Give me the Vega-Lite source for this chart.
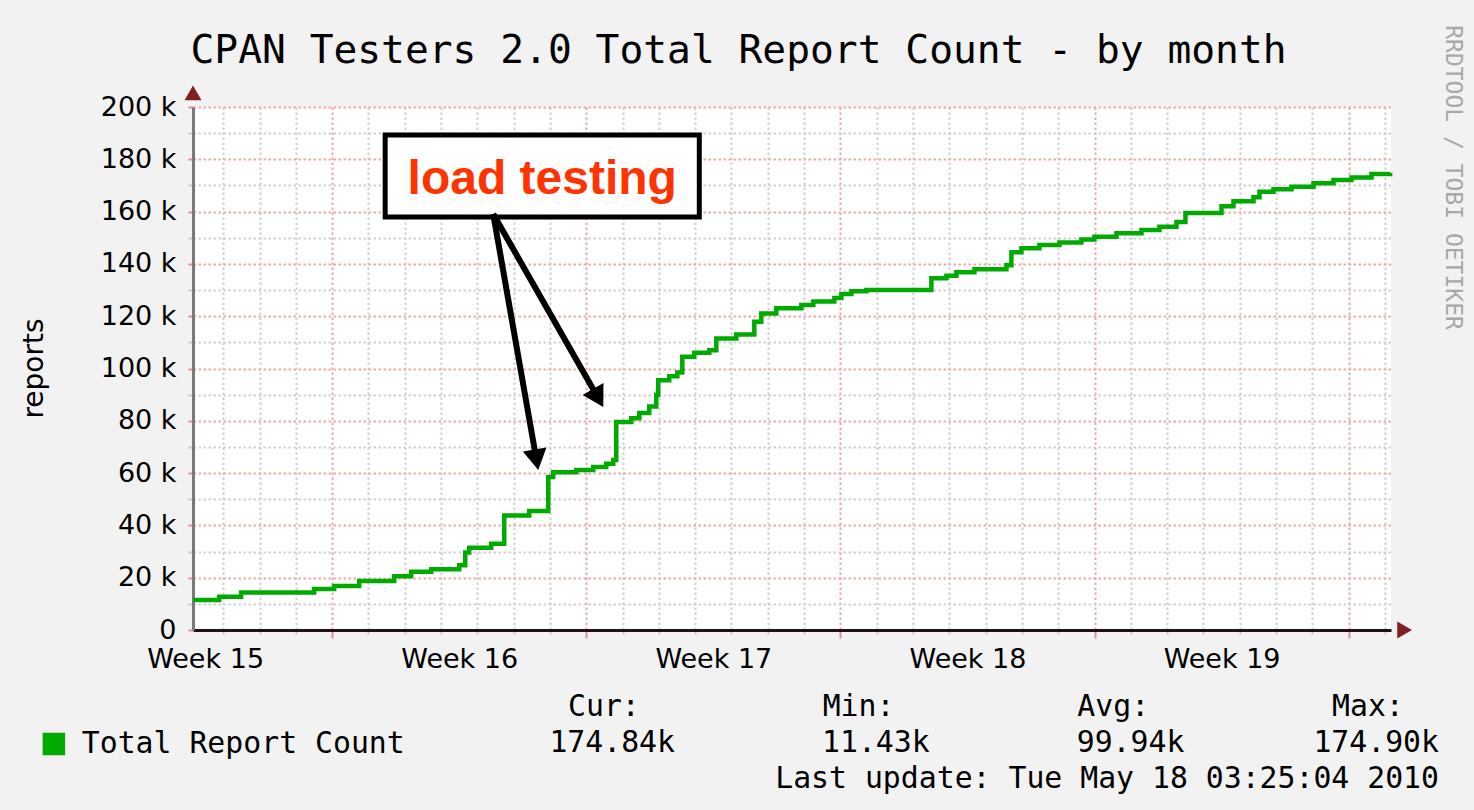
{
  "$schema": "https://vega.github.io/schema/vega-lite/v6.json",
  "autosize": "none",
  "padding": {"left": 193, "top": 107, "right": 83, "bottom": 180},
  "width": 1198,
  "height": 523,
  "background": "#f2f2f2",
  "datasets": {
    "reports": [
      {"time": "2010-04-15T04:10Z", "count": 11430},
      {"time": "2010-04-15T21:16Z", "count": 12700},
      {"time": "2010-04-16T11:48Z", "count": 14300},
      {"time": "2010-04-18T12:06Z", "count": 15700},
      {"time": "2010-04-19T01:19Z", "count": 16800},
      {"time": "2010-04-19T17:51Z", "count": 18700},
      {"time": "2010-04-20T17:00Z", "count": 20600},
      {"time": "2010-04-21T04:15Z", "count": 22300},
      {"time": "2010-04-21T17:28Z", "count": 23200},
      {"time": "2010-04-22T12:00Z", "count": 24800},
      {"time": "2010-04-22T15:58Z", "count": 29600},
      {"time": "2010-04-22T18:36Z", "count": 31500},
      {"time": "2010-04-23T09:09Z", "count": 33000},
      {"time": "2010-04-23T17:45Z", "count": 43800},
      {"time": "2010-04-24T10:16Z", "count": 45500},
      {"time": "2010-04-24T22:51Z", "count": 58500},
      {"time": "2010-04-25T02:10Z", "count": 60300},
      {"time": "2010-04-25T17:22Z", "count": 61200},
      {"time": "2010-04-26T04:36Z", "count": 62300},
      {"time": "2010-04-26T13:12Z", "count": 63600},
      {"time": "2010-04-26T17:50Z", "count": 65000},
      {"time": "2010-04-26T19:49Z", "count": 79500},
      {"time": "2010-04-27T05:44Z", "count": 81000},
      {"time": "2010-04-27T11:02Z", "count": 83000},
      {"time": "2010-04-27T17:38Z", "count": 85500},
      {"time": "2010-04-27T22:16Z", "count": 90000},
      {"time": "2010-04-27T23:35Z", "count": 95500},
      {"time": "2010-04-28T06:52Z", "count": 97000},
      {"time": "2010-04-28T12:10Z", "count": 98500},
      {"time": "2010-04-28T15:29Z", "count": 104500},
      {"time": "2010-04-28T23:24Z", "count": 106000},
      {"time": "2010-04-29T09:20Z", "count": 107000},
      {"time": "2010-04-29T13:57Z", "count": 111500},
      {"time": "2010-04-30T03:10Z", "count": 113000},
      {"time": "2010-04-30T15:05Z", "count": 117900},
      {"time": "2010-04-30T19:43Z", "count": 121000},
      {"time": "2010-05-01T05:38Z", "count": 123000},
      {"time": "2010-05-01T22:10Z", "count": 124300},
      {"time": "2010-05-02T06:06Z", "count": 125600},
      {"time": "2010-05-02T19:59Z", "count": 127000},
      {"time": "2010-05-03T00:37Z", "count": 128500},
      {"time": "2010-05-03T07:14Z", "count": 129500},
      {"time": "2010-05-03T17:10Z", "count": 130000},
      {"time": "2010-05-05T12:09Z", "count": 134500},
      {"time": "2010-05-05T22:04Z", "count": 135500},
      {"time": "2010-05-06T04:41Z", "count": 136800},
      {"time": "2010-05-06T16:35Z", "count": 138000},
      {"time": "2010-05-07T13:45Z", "count": 139500},
      {"time": "2010-05-07T17:02Z", "count": 144500},
      {"time": "2010-05-07T23:40Z", "count": 146000},
      {"time": "2010-05-08T11:34Z", "count": 147200},
      {"time": "2010-05-09T00:48Z", "count": 148200},
      {"time": "2010-05-09T15:20Z", "count": 149300},
      {"time": "2010-05-09T23:56Z", "count": 150400},
      {"time": "2010-05-10T14:30Z", "count": 151700},
      {"time": "2010-05-11T07:02Z", "count": 153000},
      {"time": "2010-05-11T18:56Z", "count": 154200},
      {"time": "2010-05-12T06:10Z", "count": 156000},
      {"time": "2010-05-12T12:07Z", "count": 159500},
      {"time": "2010-05-13T11:56Z", "count": 162000},
      {"time": "2010-05-13T19:52Z", "count": 164000},
      {"time": "2010-05-14T09:06Z", "count": 165500},
      {"time": "2010-05-14T13:03Z", "count": 167600},
      {"time": "2010-05-14T22:19Z", "count": 168500},
      {"time": "2010-05-15T10:13Z", "count": 169500},
      {"time": "2010-05-16T00:46Z", "count": 170800},
      {"time": "2010-05-16T13:59Z", "count": 172100},
      {"time": "2010-05-17T01:54Z", "count": 173000},
      {"time": "2010-05-17T15:07Z", "count": 174400},
      {"time": "2010-05-18T03:25Z", "count": 174840}
    ],
    "box": [
      {"t0": "2010-04-20T11:03Z", "t1": "2010-04-29T02:43Z", "v0": 189300, "v1": 157900}
    ],
    "note": [
      {"t": "2010-04-24T18:53Z", "v": 166700, "label": "load testing"}
    ],
    "arrows": [
      {"t0": "2010-04-23T10:29Z", "v0": 159100, "t1": "2010-04-24T15:03Z", "v1": 65100, "heading": 350},
      {"t0": "2010-04-23T10:29Z", "v0": 159100, "t1": "2010-04-26T07:51Z", "v1": 88700, "heading": 330.3}
    ],
    "stats": [
      {"stat": "Cur:", "value": "174.84k"},
      {"stat": "Min:", "value": "11.43k"},
      {"stat": "Avg:", "value": "99.94k"},
      {"stat": "Max:", "value": "174.90k"}
    ],
    "info": [
      {"label": "Last update: Tue May 18 03:25:04 2010"}
    ]
  },
  "layer": [
    {
      "resolve": {"axis": {"x": "independent", "y": "independent"}},
      "layer": [
        {
          "data": {"name": "reports"},
          "mark": {"type": "line", "interpolate": "step-after", "strokeWidth": 4.5},
          "encoding": {
            "x": {
              "field": "time", "type": "temporal",
              "scale": {"type": "utc", "nice": false,
                "domain": [{"year": 2010, "month": 4, "date": 15, "hours": 4, "utc": true},
                           {"year": 2010, "month": 5, "date": 18, "hours": 4, "utc": true}]},
              "axis": {
                "orient": "bottom", "title": null, "labels": false,
                "tickCount": {"interval": "day", "step": 1},
                "grid": true, "gridDash": [2.5, 2.5], "gridWidth": 2,
                "gridColor": {"condition": {"test": "utcday(datum.value) === 1", "value": "#f2a7a7"}, "value": "#d0d0d0"},
                "gridOpacity": 1,
                "ticks": true, "tickWidth": 2,
                "tickSize": {"condition": {"test": "utcday(datum.value) === 1", "value": 8}, "value": 4},
                "tickColor": {"condition": {"test": "utcday(datum.value) === 1", "value": "#e58e8e"}, "value": "#c8c8c8"},
                "domain": true, "domainColor": "#1e1212", "domainWidth": 3
              }
            },
            "y": {
              "field": "count", "type": "quantitative",
              "scale": {"domain": [0, 200000], "nice": false, "zero": true},
              "axis": {
                "orient": "left",
                "values": [0, 10000, 20000, 30000, 40000, 50000, 60000, 70000, 80000, 90000, 100000, 110000, 120000, 130000, 140000, 150000, 160000, 170000, 180000, 190000, 200000],
                "labelExpr": "datum.value % 20000 !== 0 ? '' : (datum.value === 0 ? '0' : format(datum.value / 1000, 'd') + ' k')",
                "labelFont": "DejaVu Sans", "labelFontSize": 27, "labelColor": "#000000",
                "labelPadding": 12, "labelOverlap": false, "labelBound": false, "labelFlush": false,
                "grid": true, "gridDash": [2.5, 2.5], "gridWidth": 2,
                "gridColor": {"condition": {"test": "datum.value % 20000 === 0", "value": "#f2a7a7"}, "value": "#d0d0d0"},
                "ticks": true, "tickSize": 5, "tickWidth": 2,
                "tickColor": {"condition": {"test": "datum.value % 20000 === 0", "value": "#e58e8e"}, "value": "#c8c8c8"},
                "domain": true, "domainColor": "#7a7a7a", "domainWidth": 3,
                "title": "reports", "titleFont": "DejaVu Sans", "titleFontSize": 28, "titleFontWeight": "normal",
                "titleColor": "#000000", "titleAngle": 270, "titleX": -145, "titleY": 261,
                "titleAlign": "center", "titleBaseline": "bottom"
              }
            },
            "color": {
              "datum": "Total Report Count",
              "type": "nominal",
              "scale": {"range": ["#00aa00"]},
              "legend": {
                "orient": "none", "legendX": -154, "legendY": 622, "padding": 0,
                "title": null, "symbolType": "square", "symbolSize": 400,
                "symbolFillColor": "#00aa00", "symbolStrokeColor": "#000000", "symbolStrokeWidth": 2.5,
                "labelFont": "DejaVu Sans Mono", "labelFontSize": 29.8, "labelColor": "#000000",
                "labelOffset": 13, "labelLimit": 1000,
                "encode": {"symbols": {"update": {"stroke": {"value": "#000000"}, "fill": {"value": "#00aa00"}}}}
              }
            }
          }
        },
        {
          "data": {"name": "box"},
          "mark": {"type": "rect", "fill": "#ffffff", "stroke": "#000000", "strokeWidth": 5},
          "encoding": {
            "x": {"field": "t0", "type": "temporal", "axis": null},
            "x2": {"field": "t1"},
            "y": {"field": "v0", "type": "quantitative", "axis": null},
            "y2": {"field": "v1"}
          }
        },
        {
          "data": {"name": "note"},
          "mark": {"type": "text", "font": "Liberation Sans", "fontWeight": "bold", "fontSize": 48, "color": "#ff3300", "align": "center", "baseline": "alphabetic"},
          "encoding": {
            "x": {
              "field": "t", "type": "temporal",
              "axis": {
                "orient": "top", "labels": false, "ticks": false, "domain": false, "grid": false,
                "title": "CPAN Testers 2.0 Total Report Count - by month",
                "titleFont": "DejaVu Sans Mono", "titleFontSize": 39.6, "titleFontWeight": "normal", "titleColor": "#000000",
                "titleX": -3, "titleY": -45, "titleAlign": "left", "titleBaseline": "alphabetic", "titleAngle": 0
              }
            },
            "y": {"field": "v", "type": "quantitative", "axis": null},
            "text": {"field": "label"}
          }
        },
        {
          "data": {"name": "arrows"},
          "mark": {"type": "rule", "color": "#000000", "strokeWidth": 6},
          "encoding": {
            "x": {
              "field": "t0", "type": "temporal",
              "axis": {
                "orient": "bottom", "title": null,
                "values": [
                  {"year": 2010, "month": 4, "date": 15, "hours": 12, "utc": true},
                  {"year": 2010, "month": 4, "date": 22, "hours": 12, "utc": true},
                  {"year": 2010, "month": 4, "date": 29, "hours": 12, "utc": true},
                  {"year": 2010, "month": 5, "date": 6, "hours": 12, "utc": true},
                  {"year": 2010, "month": 5, "date": 13, "hours": 12, "utc": true}
                ],
                "labelExpr": "'Week ' + utcFormat(datum.value, '%V')",
                "labelFont": "DejaVu Sans", "labelFontSize": 27, "labelColor": "#000000",
                "labelPadding": 16, "labelBaseline": "top", "labelFlush": false, "labelOverlap": false, "labelBound": false,
                "grid": false, "ticks": false, "domain": false
              }
            },
            "x2": {"field": "t1"},
            "y": {
              "field": "v0", "type": "quantitative",
              "axis": {
                "orient": "right", "labels": false, "ticks": false, "domain": false, "grid": false,
                "title": "RRDTOOL / TOBI OETIKER", "titleFont": "DejaVu Sans Mono", "titleFontSize": 23,
                "titleFontWeight": "normal", "titleColor": "#a8a8a8", "titleAngle": 90,
                "titleX": 61, "titleY": 70, "titleAlign": "center", "titleBaseline": "middle"
              }
            },
            "y2": {"field": "v1"}
          }
        },
        {
          "data": {"name": "arrows"},
          "mark": {"type": "point", "shape": "triangle-down", "filled": true, "color": "#000000", "opacity": 1, "size": 576},
          "encoding": {
            "x": {"field": "t1", "type": "temporal", "axis": null},
            "y": {"field": "v1", "type": "quantitative", "axis": null},
            "angle": {"field": "heading", "type": "quantitative", "scale": null}
          }
        },
        {
          "data": {"values": [{}]},
          "mark": {"type": "point", "shape": "triangle-up", "filled": true, "color": "#7f1f1f", "opacity": 1, "size": 289},
          "encoding": {
            "x": {"datum": {"year": 2010, "month": 4, "date": 15, "hours": 4, "utc": true}, "type": "temporal", "axis": null},
            "y": {"datum": 205400, "type": "quantitative", "axis": null}
          }
        },
        {
          "data": {"values": [{}]},
          "mark": {"type": "point", "shape": "triangle-right", "filled": true, "color": "#7f1f1f", "opacity": 1, "size": 289},
          "encoding": {
            "x": {"datum": {"year": 2010, "month": 5, "date": 18, "hours": 13, "utc": true}, "type": "temporal", "axis": null},
            "y": {"datum": 0, "type": "quantitative", "axis": null}
          }
        }
      ]
    },
    {
      "layer": [
        {
          "data": {"name": "stats"},
          "mark": {"type": "text", "font": "DejaVu Sans Mono", "fontSize": 29.8, "color": "#000000", "align": "left", "baseline": "alphabetic"},
          "encoding": {
            "x": {"field": "stat", "type": "nominal", "axis": null,
              "scale": {"type": "point", "domain": ["Cur:", "Min:", "Avg:", "Max:"], "range": [375, 1139], "padding": 0}},
            "y": {"datum": "header", "type": "nominal", "axis": null,
              "scale": {"type": "point", "domain": ["header", "value", "update"], "range": [609, 681], "padding": 0}},
            "text": {"field": "stat"}
          }
        },
        {
          "data": {"name": "stats"},
          "mark": {"type": "text", "font": "DejaVu Sans Mono", "fontSize": 29.8, "color": "#000000", "align": "right", "baseline": "alphabetic", "dx": 107},
          "encoding": {
            "x": {"field": "stat", "type": "nominal", "axis": null},
            "y": {"datum": "value", "type": "nominal", "axis": null},
            "text": {"field": "value"}
          }
        },
        {
          "data": {"name": "info"},
          "mark": {"type": "text", "font": "DejaVu Sans Mono", "fontSize": 29.8, "color": "#000000", "align": "right", "baseline": "alphabetic", "dx": 107},
          "encoding": {
            "x": {"datum": "Max:", "type": "nominal", "axis": null},
            "y": {"datum": "update", "type": "nominal", "axis": null},
            "text": {"field": "label"}
          }
        }
      ]
    }
  ],
  "resolve": {"scale": {"x": "independent", "y": "independent"}, "axis": {"x": "independent", "y": "independent"}},
  "config": {
    "view": {"fill": "#ffffff", "stroke": null}
  }
}
